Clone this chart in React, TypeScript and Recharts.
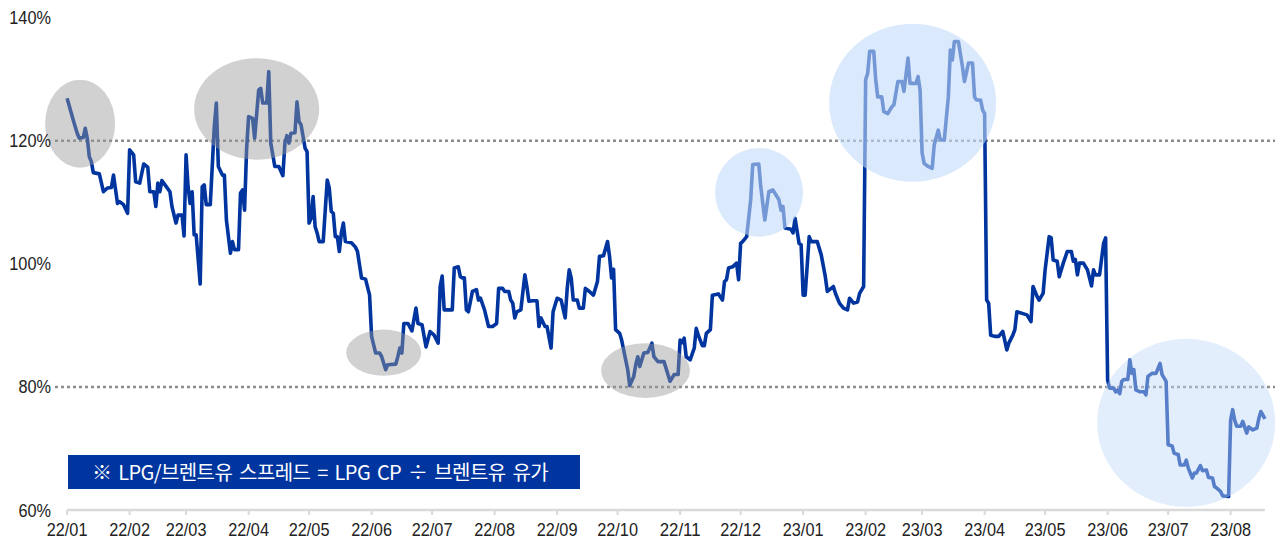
import { LineChart, Line, XAxis, YAxis, ReferenceLine, ReferenceArea } from 'recharts';

// x = days since 2022-01-01, y = LPG/Brent spread (%)
const monthLabels = ['22/01', '22/02', '22/03', '22/04', '22/05', '22/06', '22/07', '22/08', '22/09', '22/10', '22/11', '22/12',
  '23/01', '23/02', '23/03', '23/04', '23/05', '23/06', '23/07', '23/08'];

const yTicks = [60, 80, 100, 120, 140];

const q1_2022: [number, number][] = [
  [0, 126.9], [3, 123.4], [5, 121.2], [6, 120.4], [8, 120.5], [9, 122.0], [10, 120.4], [11, 117.4], [12, 116.6], [13, 114.8],
  [16, 114.6], [18, 111.7], [20, 112.3], [22, 112.4], [23, 114.4], [25, 109.8], [26, 110.1], [28, 109.6], [30, 108.2], [31, 118.5],
  [33, 117.7], [34, 113.3], [36, 113.1], [38, 116.2], [40, 115.7], [41, 111.7], [43, 111.7], [44, 109.3], [45, 113.1], [46, 111.7],
  [47, 113.5], [49, 112.6], [51, 111.7], [52, 109.3], [54, 106.6], [55, 107.9], [57, 107.9], [58, 104.5], [59, 117.7], [60, 112.5],
  [61, 109.8], [62, 111.7], [63, 104.7], [64, 104.7], [66, 96.7], [67, 112.5], [68, 112.8], [69, 109.6], [71, 109.6], [73, 122.3],
  [74, 126.1], [75, 115.8], [77, 114.4], [78, 114.4], [79, 107.1], [81, 101.7], [82, 103.6], [83, 102.3], [85, 102.3], [86, 111.5],
  [87, 112.0], [88, 108.7], [89, 118.5], [90, 123.9], [92, 123.6], [93, 120.4], [95, 128.2],
];

const q2_2022: [number, number][] = [
  [96, 128.5], [97, 126.1], [99, 126.1], [100, 131.2], [101, 119.6], [103, 115.8], [105, 115.8], [107, 114.3], [108, 119.6], [109, 120.8],
  [110, 119.6], [111, 121.2], [113, 121.3], [114, 126.3], [115, 123.1], [116, 122.6], [118, 118.8], [119, 118.2], [120, 106.6], [121, 107.4],
  [122, 110.9], [123, 106.0], [124, 105.0], [125, 103.6], [127, 103.6], [129, 113.6], [130, 112.3], [131, 108.5], [132, 108.2], [133, 104.4],
  [134, 104.4], [135, 102.0], [136, 105.0], [137, 106.6], [138, 103.6], [141, 103.4], [143, 102.7], [144, 102.0], [146, 97.7], [148, 97.5],
  [150, 94.9], [151, 88.2], [153, 85.5], [155, 85.5], [156, 84.9], [158, 82.8], [159, 83.6], [163, 83.7], [164, 84.9], [165, 86.3],
  [166, 85.5], [167, 90.3], [169, 90.3], [171, 89.1], [173, 92.8], [174, 90.3], [176, 90.1], [178, 86.5], [180, 89.0], [182, 88.4],
  [184, 87.1], [185, 96.3], [186, 98.0], [187, 92.5], [191, 92.5], [192, 99.3], [194, 99.5], [195, 97.9],
];

const q3_2022: [number, number][] = [
  [196, 97.7], [197, 97.7], [198, 92.5], [199, 92.2], [201, 95.5], [203, 95.8], [204, 94.1], [205, 94.4], [207, 92.5], [209, 89.8],
  [211, 89.8], [213, 90.3], [214, 96.0], [216, 96.0], [217, 95.5], [219, 95.5], [220, 94.1], [221, 93.6], [222, 91.2], [223, 92.2],
  [225, 92.5], [227, 98.2], [228, 96.3], [229, 93.9], [231, 94.0], [233, 94.0], [234, 89.8], [235, 91.2], [237, 89.8], [238, 89.8],
  [240, 86.3], [241, 92.2], [243, 94.4], [245, 94.1], [247, 91.2], [248, 96.0], [249, 99.0], [250, 97.7], [251, 94.1], [253, 94.1],
  [254, 92.8], [256, 92.8], [257, 96.0], [259, 95.5], [261, 94.9], [263, 97.1], [264, 101.2], [266, 101.3], [268, 103.6], [269, 101.2],
  [270, 97.7], [271, 99.1], [272, 89.3],
];

const q4_2022: [number, number][] = [
  [274, 88.7], [275, 87.6], [277, 84.4], [278, 82.8], [279, 80.2], [281, 81.7], [282, 83.6], [283, 84.9], [284, 83.3], [286, 85.5],
  [288, 85.6], [290, 87.1], [291, 84.9], [293, 84.1], [296, 84.1], [299, 80.9], [301, 82.0], [303, 82.0], [304, 87.6], [305, 87.2],
  [306, 87.9], [307, 84.9], [309, 84.4], [311, 86.3], [312, 89.5], [313, 88.4], [315, 86.7], [316, 86.7], [317, 88.7], [319, 89.3],
  [320, 94.9], [323, 95.1], [325, 94.1], [326, 97.1], [327, 97.4], [328, 99.3], [330, 99.5], [332, 100.1], [333, 97.4], [334, 103.3],
  [335, 103.6], [337, 104.4], [339, 110.4], [340, 116.1], [343, 116.2], [344, 112.5], [346, 107.1], [348, 111.7], [350, 112.0], [353, 110.4],
  [354, 108.7], [355, 109.3], [356, 105.8], [359, 105.6], [360, 105.0], [361, 107.4], [363, 103.3], [364, 103.1],
];

const q1_2023: [number, number][] = [
  [365, 94.9], [366, 94.9], [368, 104.4], [369, 103.6], [372, 103.6], [374, 101.4], [376, 97.9], [377, 95.5], [380, 96.3], [381, 95.2],
  [383, 93.6], [385, 92.8], [387, 92.5], [388, 94.4], [390, 93.6], [392, 93.8], [393, 95.2], [395, 96.3], [396, 129.9], [397, 130.9],
  [398, 134.5], [400, 134.5], [401, 129.9], [402, 127.1], [404, 127.1], [405, 124.7], [407, 124.4], [409, 125.5], [410, 125.8], [412, 129.6],
  [414, 129.6], [415, 128.0], [417, 133.4], [418, 129.3], [421, 129.3], [422, 130.4], [423, 128.2], [424, 118.0], [425, 116.3], [427, 115.8],
  [429, 115.5], [430, 119.3], [432, 121.7], [433, 120.1], [435, 120.1], [437, 127.1], [438, 134.7], [439, 133.1], [440, 136.1], [442, 136.1],
  [444, 132.0], [445, 129.6], [447, 132.6], [449, 132.6], [450, 127.1], [451, 126.6], [453, 126.6], [454, 125.0], [455, 124.4],
];

const q2_2023: [number, number][] = [
  [456, 94.1], [457, 93.6], [458, 88.4], [460, 88.2], [462, 88.2], [464, 89.0], [466, 86.0], [467, 87.1], [469, 88.4], [470, 89.3],
  [471, 92.2], [474, 91.9], [476, 91.7], [478, 90.6], [479, 96.3], [481, 94.7], [482, 94.1], [484, 95.2], [485, 99.0], [487, 104.4],
  [488, 104.2], [489, 100.6], [491, 100.4], [492, 97.9], [494, 100.1], [496, 102.0], [498, 102.0], [499, 100.4], [500, 100.7], [501, 98.2],
  [502, 100.1], [504, 100.1], [506, 99.0], [508, 96.4], [509, 99.0], [510, 98.2], [512, 98.2], [514, 103.3], [515, 104.2], [516, 81.1],
  [517, 79.8], [519, 79.8], [520, 79.2], [521, 79.5], [522, 78.9], [523, 80.9], [524, 81.2], [526, 81.2], [527, 84.4], [528, 82.2],
  [529, 82.8], [530, 79.5], [532, 79.2], [534, 79.2], [535, 78.7], [536, 81.7], [538, 82.2], [540, 82.2], [542, 83.8], [543, 82.0],
  [545, 80.9],
];

const q3_2023: [number, number][] = [
  [546, 70.6], [548, 70.4], [549, 69.2], [551, 69.0], [552, 67.3], [554, 67.3], [555, 68.1], [556, 66.8], [558, 65.2], [559, 66.0],
  [560, 66.0], [562, 67.2], [563, 66.4], [565, 66.5], [566, 65.3], [568, 65.2], [569, 63.8], [570, 63.6], [572, 63.0], [573, 62.3],
  [576, 62.2], [577, 74.6], [578, 76.3], [579, 74.6], [580, 73.6], [582, 73.6], [583, 74.4], [585, 72.5], [586, 73.5], [588, 73.0],
  [590, 73.3], [591, 74.9], [592, 76.0], [593, 75.4], [594, 74.8],
];

// highlighted periods (bounds in chart units)
const greyRings = [
  { x1: -10.9, x2: 23.8, y1: 115.6, y2: 129.9 },
  { x1: 63.0, x2: 125.0, y1: 116.9, y2: 133.4 },
  { x1: 138.4, x2: 175.6, y1: 81.8, y2: 89.3 },
  { x1: 264.8, x2: 308.9, y1: 78.2, y2: 87.1 },
];
const blueRings = [
  { x1: 321.3, x2: 365.0, y1: 104.4, y2: 118.8, opacity: 0.6 },
  { x1: 377.9, x2: 460.7, y1: 113.3, y2: 139.0, opacity: 0.6 },
  { x1: 510.8, x2: 599.1, y1: 60.5, y2: 87.8, opacity: 0.45 },
];

const toDay = (label: string) => {
  const [yy, mm] = label.split('/').map(Number);
  return Math.round((Date.UTC(2000 + yy, mm - 1, 1) - Date.UTC(2022, 0, 1)) / 86400000);
};
const tickDays = monthLabels.map(toDay);
const labelByDay: Record<number, string> = {};
tickDays.forEach((d, i) => { labelByDay[d] = monthLabels[i]; });

const chartData = [...q1_2022, ...q2_2022, ...q3_2022, ...q4_2022, ...q1_2023, ...q2_2023, ...q3_2023]
  .map(([day, spread]) => ({ day, spread }));

const LINE_COLOR = '#0035a0';
const TICK_FONT = "'Liberation Sans', Arial, sans-serif";

// narrow-looking labels: natural width of Arial at ~16px, glyphs drawn taller
const charWidth = (c: string) => (c === '/' ? 0.278 : c === '%' ? 0.889 : 0.556);
const narrowWidth = (s: string) => s.split('').reduce((a, c) => a + charWidth(c), 0) * 16.3;

const XTick = (props: any) => {
  const { x, y, payload } = props;
  const label = labelByDay[payload.value] ?? '';
  return (
    <text x={x} y={y + 18} textAnchor="middle" fontSize={19} fill="#222" fontFamily={TICK_FONT}
      textLength={narrowWidth(label)} lengthAdjust="spacingAndGlyphs">
      {label}
    </text>
  );
};

const YTick = (props: any) => {
  const { y, payload } = props;
  const label = `${payload.value}%`;
  const w = narrowWidth(label);
  return (
    <text x={51 - w} y={y + 6.5} textAnchor="start" fontSize={18} fill="#222" fontFamily={TICK_FONT}
      textLength={w} lengthAdjust="spacingAndGlyphs">
      {label}
    </text>
  );
};

const ellipse = (fill: string, opacity: number) => (props: any) => {
  const { x, y, width, height } = props;
  return (
    <ellipse cx={x + width / 2} cy={y + height / 2} rx={Math.abs(width) / 2} ry={Math.abs(height) / 2}
      fill={fill} fillOpacity={opacity} stroke="none" />
  );
};

export default function App() {
  return (
    <div style={{ position: 'absolute', left: 0, top: 0, width: 1277, height: 542, background: '#fff' }}>
      <LineChart width={1277} height={542} data={chartData} margin={{ top: 17.5, right: 2, bottom: 0, left: 0 }}>
        <XAxis
          type="number"
          dataKey="day"
          domain={[-6, 599]}
          ticks={tickDays}
          interval={0}
          axisLine={false}
          tickLine={{ stroke: '#d9d9d9', strokeWidth: 2 }}
          tickSize={5}
          tickMargin={3}
          height={32}
          tick={<XTick />}
        />
        <YAxis
          type="number"
          domain={[60, 140]}
          ticks={yTicks}
          axisLine={false}
          tickLine={false}
          tickSize={2}
          tickMargin={2}
          width={55}
          tick={<YTick />}
        />
        <ReferenceLine y={120} stroke="#8c8c8c" strokeWidth={2.5} strokeDasharray="3 3" />
        <ReferenceLine y={80} stroke="#8c8c8c" strokeWidth={2.5} strokeDasharray="3 3" />
        <ReferenceLine segment={[{ x: 0, y: 60 }, { x: 594, y: 60 }]} stroke="#d9d9d9" strokeWidth={2.5} ifOverflow="visible" />
        <Line
          type="linear"
          dataKey="spread"
          stroke={LINE_COLOR}
          strokeWidth={3.6}
          strokeLinejoin="round"
          dot={false}
          activeDot={false}
          isAnimationActive={false}
        />
        {greyRings.map((r, i) => (
          <ReferenceArea key={`g${i}`} x1={r.x1} x2={r.x2} y1={r.y1} y2={r.y2} ifOverflow="visible"
            zIndex={1000} shape={ellipse('rgb(152,152,152)', 0.45)} />
        ))}
        {blueRings.map((r, i) => (
          <ReferenceArea key={`b${i}`} x1={r.x1} x2={r.x2} y1={r.y1} y2={r.y2} ifOverflow="visible"
            zIndex={1000} shape={ellipse('rgb(194,218,250)', r.opacity)} />
        ))}
      </LineChart>
      <div style={{
        position: 'absolute', left: 68, top: 455, width: 512, height: 34, background: '#0035a0',
        color: '#fff', fontFamily: "'Noto Sans CJK KR', sans-serif", fontSize: 20, lineHeight: '34px',
        letterSpacing: -0.6, wordSpacing: 3, paddingLeft: 24, boxSizing: 'border-box', whiteSpace: 'nowrap',
      }}>
        ※ LPG/브렌트유 스프레드 = LPG CP ÷ 브렌트유 유가
      </div>
    </div>
  );
}
